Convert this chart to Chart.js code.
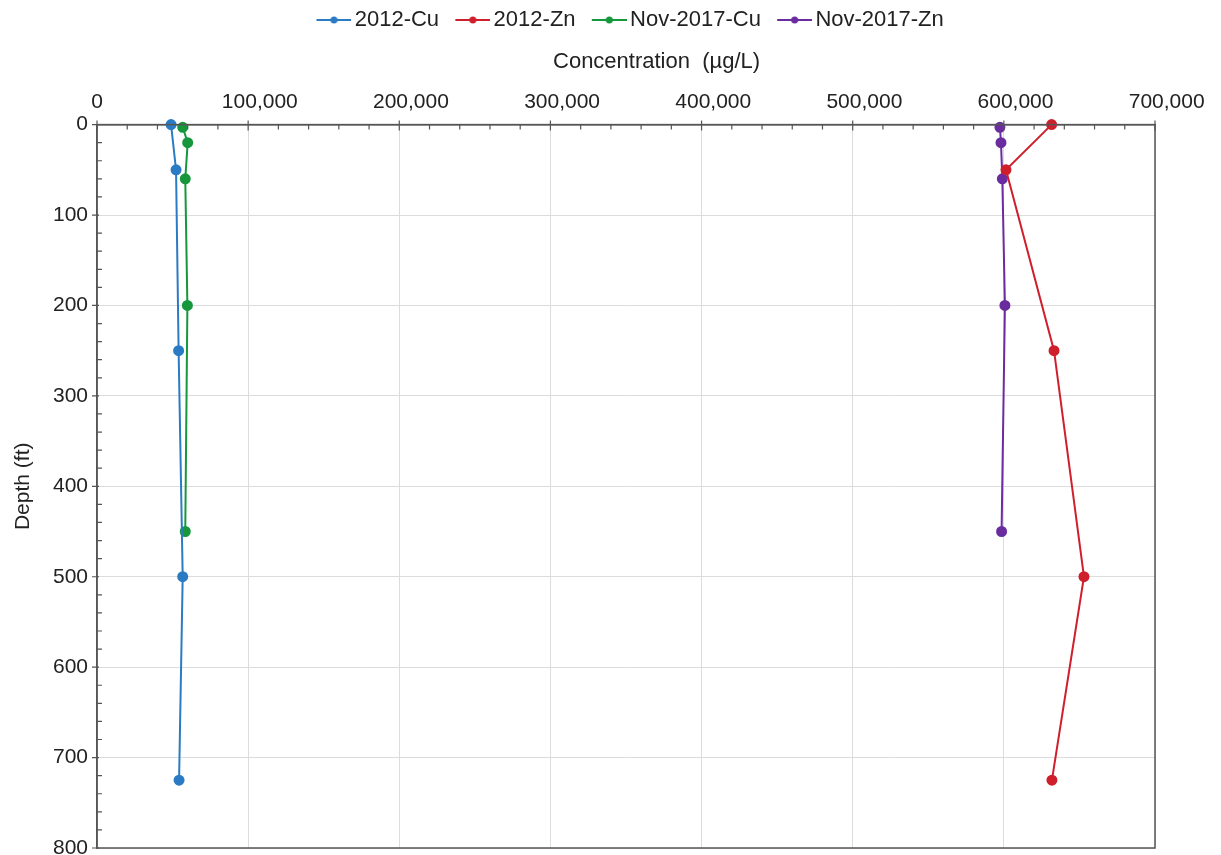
<!DOCTYPE html>
<html>
<head>
<meta charset="utf-8">
<script src="https://cdn.jsdelivr.net/npm/chart.js@4"></script>
<style>
  html, body { margin: 0; padding: 0; background: #fff; }
  #wrap { width: 1221px; height: 855px; }
</style>
</head>
<body>
<div id="wrap"><canvas id="depthplot" width="1221" height="855"></canvas></div>
<script>
// depth profiles, ft below collar
const depths2012 = [0, 50, 250, 500, 725]
const depths2017 = [3, 20, 60, 200, 450]

// concentrations, ug/L
const cu2012 = [49000, 52300, 54000, 56700, 54300]
const zn2012 = [631600, 601400, 633200, 653000, 631800]
const cu2017 = [56700, 60000, 58400, 59800, 58400]
const zn2017 = [597400, 598100, 599000, 600700, 598500]

const seriesNames = ['2012-Cu', '2012-Zn', 'Nov-2017-Cu', 'Nov-2017-Zn']
const seriesColors = ['#2b7bc4', '#cf1f2d', '#16973c', '#6a2c9e']

const fontFamily = 'Arial, "Liberation Sans", Helvetica, sans-serif'
const axisColor = '#555'

function toPoints(values, depths) {
    return values.map((v, i) => ({ x: v, y: depths[i] }))
}

// line-with-dot swatch for the legend; the canvas is wider than the
// legend box so the line sits close to its label text
function legendSwatch(color) {
    let c = document.createElement('canvas')
    c.width = 52
    c.height = 10
    let ctx = c.getContext('2d')
    ctx.strokeStyle = color
    ctx.lineWidth = 2
    ctx.beginPath()
    ctx.moveTo(17, 5)
    ctx.lineTo(52, 5)
    ctx.stroke()
    ctx.fillStyle = color
    ctx.beginPath()
    ctx.arc(34.5, 5, 3.5, 0, Math.PI * 2)
    ctx.fill()
    return c
}

function makeDataset(i, values, depths) {
    return {
        label: seriesNames[i],
        data: toPoints(values, depths),
        borderColor: seriesColors[i],
        backgroundColor: seriesColors[i],
        borderWidth: 2,
        pointRadius: 4.5,
        pointHoverRadius: 5,
        showLine: true,
        clip: false
    }
}

// nudge the legend a bit right of the plot centre
const legendShift = {
    id: 'legendShift',
    afterLayout(chart) {
        chart.legend.left += 48
        chart.legend.right += 48
    }
}

// box outline plus minor/major tick marks
const frameTicks = {
    id: 'frameTicks',
    afterDraw(chart) {
        let { ctx, chartArea: a, scales } = chart
        let xs = scales.x, ys = scales.y
        ctx.save()
        ctx.strokeStyle = axisColor
        ctx.lineWidth = 1.5
        ctx.strokeRect(a.left, a.top, a.right - a.left, a.bottom - a.top)

        ctx.lineWidth = 1.2
        ctx.beginPath()
        for (let v = 0; v <= 700000; v += 20000) {
            let px = xs.getPixelForValue(v)
            let major = v % 100000 === 0
            ctx.moveTo(px, major ? a.top - 4 : a.top)
            ctx.lineTo(px, major ? a.top + 6 : a.top + 5)
        }
        for (let d = 0; d <= 800; d += 20) {
            let py = ys.getPixelForValue(d)
            let major = d % 100 === 0
            ctx.moveTo(major ? a.left - 5 : a.left, py)
            ctx.lineTo(major ? a.left + 2 : a.left + 5, py)
        }
        ctx.stroke()
        ctx.restore()
    }
}

new Chart('depthplot', {
    type: 'scatter',
    data: {
        datasets: [
            makeDataset(0, cu2012, depths2012),
            makeDataset(1, zn2012, depths2012),
            makeDataset(2, cu2017, depths2017),
            makeDataset(3, zn2017, depths2017)
        ]
    },
    options: {
        responsive: false,
        animation: false,
        layout: { padding: { left: 0, right: 66, top: 2, bottom: 3 } },
        plugins: {
            tooltip: { enabled: false },
            legend: {
                position: 'top',
                labels: {
                    color: '#222',
                    font: { family: fontFamily, size: 22 },
                    usePointStyle: true,
                    pointStyleWidth: 36.5,
                    padding: 7,
                    generateLabels(chart) {
                        return chart.data.datasets.map((ds, i) => ({
                            text: ds.label,
                            fontColor: '#222',
                            pointStyle: legendSwatch(ds.borderColor),
                            strokeStyle: ds.borderColor,
                            fillStyle: ds.borderColor,
                            lineWidth: 0,
                            datasetIndex: i
                        }))
                    }
                }
            }
        },
        scales: {
            x: {
                type: 'linear',
                position: 'top',
                min: 0,
                max: 700000,
                ticks: {
                    stepSize: 100000,
                    color: '#222',
                    padding: 10,
                    maxRotation: 0,
                    font: { family: fontFamily, size: 21 },
                    // thousands labels sit a little right of their tick
                    callback: (v) => v === 0 ? '0' : '    ' + v.toLocaleString('en-US')
                },
                grid: { color: '#dcdcdc', lineWidth: 1, drawTicks: false },
                border: { color: axisColor, width: 1.5 },
                title: {
                    display: true,
                    text: '          Concentration  (µg/L)',
                    color: '#222',
                    font: { family: fontFamily, size: 22 },
                    padding: { top: 8, bottom: 4 }
                }
            },
            y: {
                type: 'linear',
                reverse: true,
                min: 0,
                max: 800,
                ticks: {
                    stepSize: 100,
                    color: '#222',
                    padding: 9,
                    font: { family: fontFamily, size: 21 }
                },
                grid: { color: '#dcdcdc', lineWidth: 1, drawTicks: false },
                border: { color: axisColor, width: 1.5 },
                title: {
                    display: true,
                    text: 'Depth (ft)',
                    color: '#222',
                    font: { family: fontFamily, size: 21 },
                    padding: { top: 11, bottom: 6 }
                },
                afterFit(scale) {
                    scale.width = 97
                    // let the 800 label hang over the bottom edge
                    scale.paddingBottom = 0
                    scale.paddingTop = 0
                }
            }
        }
    },
    plugins: [legendShift, frameTicks]
})
</script>
</body>
</html>
